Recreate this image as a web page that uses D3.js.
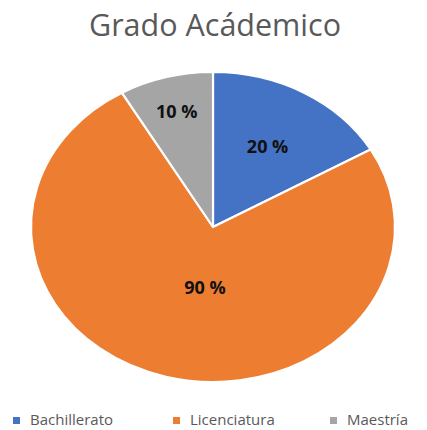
<!DOCTYPE html>
<html><head><meta charset="utf-8">
<script src="https://cdn.jsdelivr.net/npm/d3@7"></script>
<style>body{margin:0;background:#fff}svg{display:block}</style>
</head><body>
<svg id="c" width="427" height="430"></svg>
<script>
const categories = ["Bachillerato", "Licenciatura", "Maestría"];
const values = [20, 90, 10];
const labels = ["20 %", "90 %", "10 %"];
const colors = ["#4472C4", "#ED7D31", "#A5A5A5"];
const title = "Grado Acádemico";

// label placement (style): fraction of radius and angular shift in degrees
const labelStyle = [{r: 0.6, shift: 0}, {r: 0.39, shift: -8.5}, {r: 0.77, shift: 0}];

const svg = d3.select("#c");
const cx = 213, cy = 227, rx = 182, ry = 155;

svg.append("text").attr("x", 215).attr("y", 36).attr("text-anchor", "middle")
  .attr("font-family", "Open Sans, sans-serif").attr("font-size", 30.5)
  .attr("fill", "#595959").text(title);

const pie = d3.pie().sort(null).value(d => d)(values);
const arc = d3.arc().innerRadius(0).outerRadius(ry);
const g = svg.append("g").attr("transform", `translate(${cx},${cy}) scale(${rx/ry},1)`);
g.selectAll("path").data(pie).join("path")
  .attr("d", arc).attr("fill", (d, i) => colors[i])
  .attr("stroke", "#fff").attr("stroke-width", 2.2)
  .attr("vector-effect", "non-scaling-stroke").attr("stroke-linejoin", "round");

const lg = svg.append("g").attr("transform", `translate(${cx},${cy})`);
pie.forEach((d, i) => {
  const a = (d.startAngle + d.endAngle) / 2 + labelStyle[i].shift * Math.PI / 180;
  const x = Math.sin(a) * rx * labelStyle[i].r;
  const y = -Math.cos(a) * ry * labelStyle[i].r;
  lg.append("text").attr("x", x).attr("y", y).attr("dy", "0.36em")
    .attr("text-anchor", "middle").attr("font-family", "Open Sans, sans-serif")
    .attr("font-weight", "bold").attr("font-size", 18).attr("fill", "#111")
    .text(labels[i]);
});

const legX = [13, 173, 330];
const leg = svg.append("g");
categories.forEach((c, i) => {
  leg.append("rect").attr("x", legX[i]).attr("y", 417).attr("width", 7).attr("height", 7).attr("fill", colors[i]);
  leg.append("text").attr("x", legX[i] + 17).attr("y", 425)
    .attr("font-family", "Open Sans, sans-serif").attr("font-size", 15).attr("fill", "#595959").text(c);
});
</script>
</body></html>
